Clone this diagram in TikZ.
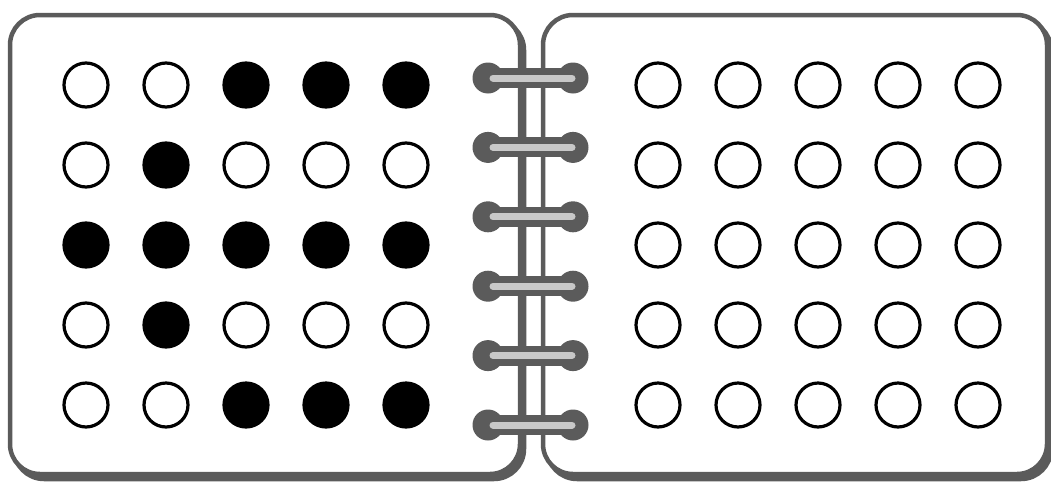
\documentclass[tikz,border=0pt]{standalone}
\usepackage{tikz}
\usetikzlibrary{calc,positioning}
\definecolor{RingGray}{HTML}{5B5B5B}
\definecolor{RingLight}{HTML}{C8C8C8}
\tikzset{Page/.style={draw=RingGray,line width=4.5,rounded corners=30,fill=white},
         Shade/.style={draw=RingGray,fill=RingGray,line width=4.5,rounded corners=30},
         Hole/.style={circle,draw=black,fill=#1,line width=3.2,minimum size=44,inner sep=0pt},
         Ring/.style={draw=RingGray,line width=20,line cap=round},
         RingIn/.style={draw=RingLight,line width=7,line cap=round}}

\begin{document}
\begin{tikzpicture}[x=1pt,y=-1pt]
            \useasboundingbox (0,0) rectangle (1051,482);
            % pages with their shadow
            \path[Shade] (14,20) rectangle (524,479);
            \path[Page] (10,15) rectangle (520,474);
            \path[Shade] (547,20) rectangle (1051,479);
            \path[Page] (543,15) rectangle (1047,474);
            % left page: the pattern
            \foreach \r/\a/\b/\c/\d/\e in {1/white/white/black/black/black,
                                            2/white/black/white/white/white,
                                            3/black/black/black/black/black,
                                            4/white/black/white/white/white,
                                            5/white/white/black/black/black}{
                \foreach \col/\f in {1/\a,2/\b,3/\c,4/\d,5/\e}{
                    \node[Hole=\f] (l\r\col) at ({6+80*\col},{5+80*\r}) {};
                }
            }
            % right page: all empty
            \foreach \r in {1,...,5}{
                \foreach \col in {1,...,5}{
                    \node[Hole=white] (r\r\col) at ({578+80*\col},{5+80*\r}) {};
                }
            }
            % rings
            \foreach \i in {0,...,5}{
                \coordinate (ringL\i) at (488,{78+69.4*\i});
                \coordinate (ringR\i) at (573,{78+69.4*\i});
                \fill[RingGray] (ringL\i) circle[radius=15.5];
                \fill[RingGray] (ringR\i) circle[radius=15.5];
                \draw[Ring] (ringL\i) -- (ringR\i);
                \draw[RingIn] ($(ringL\i)+(5,0)$) -- ($(ringR\i)+(-1,0)$);
            }
        \end{tikzpicture}
\end{document}
